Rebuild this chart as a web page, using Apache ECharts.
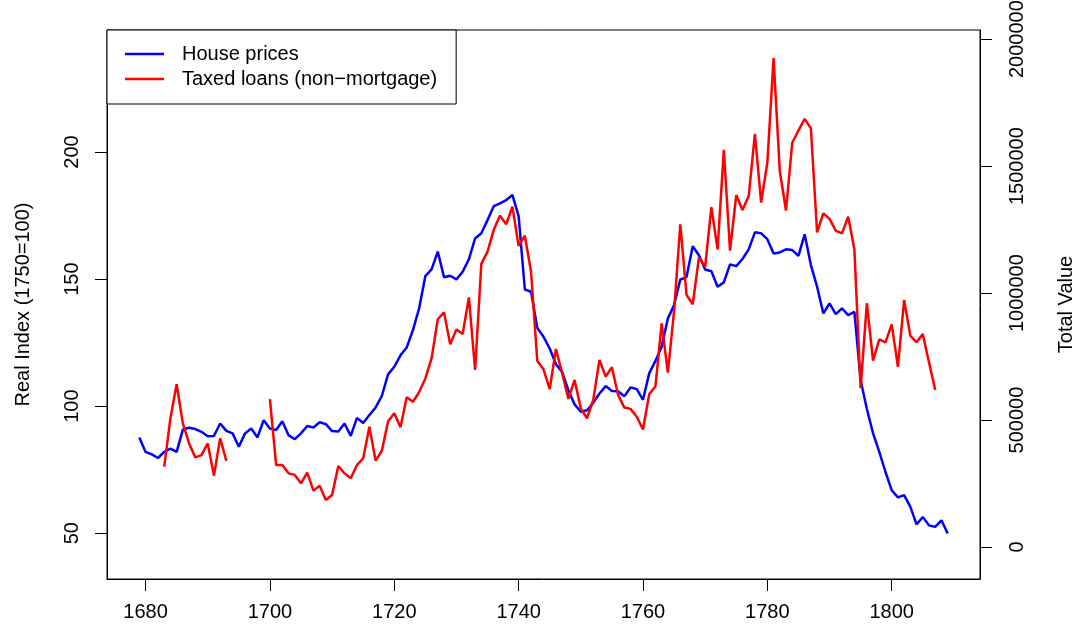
<!DOCTYPE html>
<html>
<head>
<meta charset="utf-8">
<script src="https://cdn.jsdelivr.net/npm/echarts@6/dist/echarts.min.js"></script>
<style>html,body{margin:0;padding:0;background:#fff}#c{width:1078px;height:627px}</style>
</head>
<body>
<div id="c"></div>
<script>
const houseYears = [1679,1680,1681,1682,1683,1684,1685,1686,1687,1688,1689,1690,1691,1692,1693,1694,1695,1696,1697,1698,1699,
1700,1701,1702,1703,1704,1705,1706,1707,1708,1709,1710,1711,1712,1713,1714,1715,1716,1717,1718,1719,
1720,1721,1722,1723,1724,1725,1726,1727,1728,1729,1730,1731,1732,1733,1734,1735,1736,1737,1738,1739,
1740,1741,1742,1743,1744,1745,1746,1747,1748,1749,1750,1751,1752,1753,1754,1755,1756,1757,1758,1759,
1760,1761,1762,1763,1764,1765,1766,1767,1768,1769,1770,1771,1772,1773,1774,1775,1776,1777,1778,1779,
1780,1781,1782,1783,1784,1785,1786,1787,1788,1789,1790,1791,1792,1793,1794,1795,1796,1797,1798,1799,
1800,1801,1802,1803,1804,1805,1806,1807,1808,1809];
const housePrices = [87.7,82.0,81.0,79.6,82.0,83.3,82.0,90.8,91.5,91.0,89.9,88.2,88.3,93.2,90.3,89.3,84.0,89.3,91.2,87.7,94.5,
91.2,90.6,94.1,88.6,87.0,89.3,92.2,91.6,93.7,92.9,90.2,90.0,93.2,88.3,95.4,93.4,96.5,99.5,104.0,112.5,
115.5,120.0,123.1,129.9,138.5,151.2,153.8,160.8,150.7,151.3,149.9,152.9,157.8,166.0,168.0,173.2,178.7,179.8,181.1,183.1,
174.8,145.9,145.0,130.8,127.3,122.7,116.5,113.5,106.3,100.7,97.8,98.4,101.3,105.0,107.9,106.0,105.9,103.9,107.4,106.7,
102.5,112.9,117.8,123.4,134.5,139.8,149.8,150.8,162.9,159.4,153.8,153.1,147.0,148.7,155.8,155.1,157.9,161.7,168.4,168.0,
165.7,160.1,160.5,161.7,161.4,159.1,167.6,155.5,147.0,136.5,140.4,136.2,138.5,135.8,137.1,110.2,99.0,89.3,82.0,74.1,
66.9,64.1,65.0,60.4,53.5,56.4,53.1,52.5,55.1,49.9];

const loanYears = [1683,1684,1685,1686,1687,1688,1689,1690,1691,1692,1693,1694,1695,1696,1697,1698,1699,
1700,1701,1702,1703,1704,1705,1706,1707,1708,1709,1710,1711,1712,1713,1714,1715,1716,1717,1718,1719,
1720,1721,1722,1723,1724,1725,1726,1727,1728,1729,1730,1731,1732,1733,1734,1735,1736,1737,1738,1739,
1740,1741,1742,1743,1744,1745,1746,1747,1748,1749,1750,1751,1752,1753,1754,1755,1756,1757,1758,1759,
1760,1761,1762,1763,1764,1765,1766,1767,1768,1769,1770,1771,1772,1773,1774,1775,1776,1777,1778,1779,
1780,1781,1782,1783,1784,1785,1786,1787,1788,1789,1790,1791,1792,1793,1794,1795,1796,1797,1798,1799,
1800,1801,1802,1803,1804,1805,1806,1807];
const taxedLoans = [316000,507000,641000,487000,408000,353000,362000,408000,281000,428000,339000,null,null,null,null,null,null,
582000,323000,323000,290000,284000,251000,293000,222000,241000,185000,205000,319000,290000,271000,323000,349000,474000,340000,379000,494000,
527000,472000,590000,572000,610000,664000,743000,897000,924000,798000,857000,839000,983000,697000,1115000,1163000,1249000,1305000,1271000,1340000,
1186000,1226000,1084000,733000,700000,622000,780000,684000,583000,658000,546000,507000,579000,737000,671000,708000,599000,549000,544000,513000,
463000,602000,632000,881000,687000,930000,1271000,993000,956000,1140000,1104000,1338000,1172000,1564000,1167000,1386000,1327000,1382000,1627000,1356000,
1514000,1925000,1481000,1325000,1592000,1640000,1686000,1649000,1239000,1314000,1292000,1246000,1235000,1301000,1172000,625000,960000,734000,818000,806000,
877000,710000,973000,832000,806000,839000,727000,618000];

const xTicks = [1680,1700,1720,1740,1760,1780,1800];
const leftTicks = [50,100,150,200];
const rightTicks = [0,500000,1000000,1500000,2000000];

const FONT = 'Liberation Sans, Arial, Helvetica, sans-serif';
const chart = echarts.init(document.getElementById('c'), null, {renderer:'canvas'});
const labelStyle = {color:'#000', fontSize:20, fontFamily:FONT};
const mkTick = vals => ({show:true, inside:false, length:12, customValues:vals, lineStyle:{color:'#000', width:1}});
const mkLine = () => ({show:true, onZero:false, lineStyle:{color:'#000', width:1}});

chart.setOption({
  animation:false,
  backgroundColor:'#fff',
  grid:{left:107, right:98, top:30, bottom:48, show:true, borderColor:'#000', borderWidth:1, backgroundColor:'transparent', containLabel:false, outerBoundsMode:'none'},
  legend:{
    left:107, top:30, orient:'vertical',
    padding:[14,19,15,18],
    icon:'rect', itemWidth:39, itemHeight:2.5, itemGap:5,
    backgroundColor:'#fff', borderColor:'#000', borderWidth:1,
    textStyle:{color:'#000', fontSize:20, fontFamily:FONT, padding:[0,0,0,13], lineHeight:20},
    data:['House prices','Taxed loans (non\u2212mortgage)']
  },
  xAxis:{
    type:'value', min:1673.8, max:1814.2,
    axisLine:mkLine(), splitLine:{show:false},
    axisTick:mkTick(xTicks),
    axisLabel:Object.assign({customValues:xTicks, margin:23, formatter:v=>String(v)}, labelStyle)
  },
  yAxis:[{
    type:'value', min:32, max:248, position:'left',
    name:'Real Index (1750=100)', nameLocation:'middle', nameGap:74,
    nameTextStyle:{color:'#000', fontSize:20, fontFamily:FONT},
    axisLine:mkLine(), splitLine:{show:false},
    axisTick:mkTick(leftTicks),
    axisLabel:Object.assign({customValues:leftTicks, margin:25, rotate:90, formatter:v=>String(v)}, labelStyle)
  },{
    type:'value', min:-126000, max:2036000, position:'right',
    name:'Total Value', nameLocation:'middle', nameGap:76, nameRotate:90,
    nameTextStyle:{color:'#000', fontSize:20, fontFamily:FONT},
    axisLine:mkLine(), splitLine:{show:false},
    axisTick:mkTick(rightTicks),
    axisLabel:Object.assign({customValues:rightTicks, margin:27, rotate:90, formatter:v=>String(v)}, labelStyle)
  }],
  series:[{
    name:'House prices', type:'line', yAxisIndex:0, symbol:'none',
    lineStyle:{color:'#0000FF', width:2.5}, itemStyle:{color:'#0000FF'},
    data:houseYears.map((y,i)=>[y,housePrices[i]])
  },{
    name:'Taxed loans (non\u2212mortgage)', type:'line', yAxisIndex:1, symbol:'none', connectNulls:false,
    lineStyle:{color:'#FF0000', width:2.5}, itemStyle:{color:'#FF0000'},
    data:loanYears.map((y,i)=>[y,taxedLoans[i]])
  }]
});
</script>
</body>
</html>
